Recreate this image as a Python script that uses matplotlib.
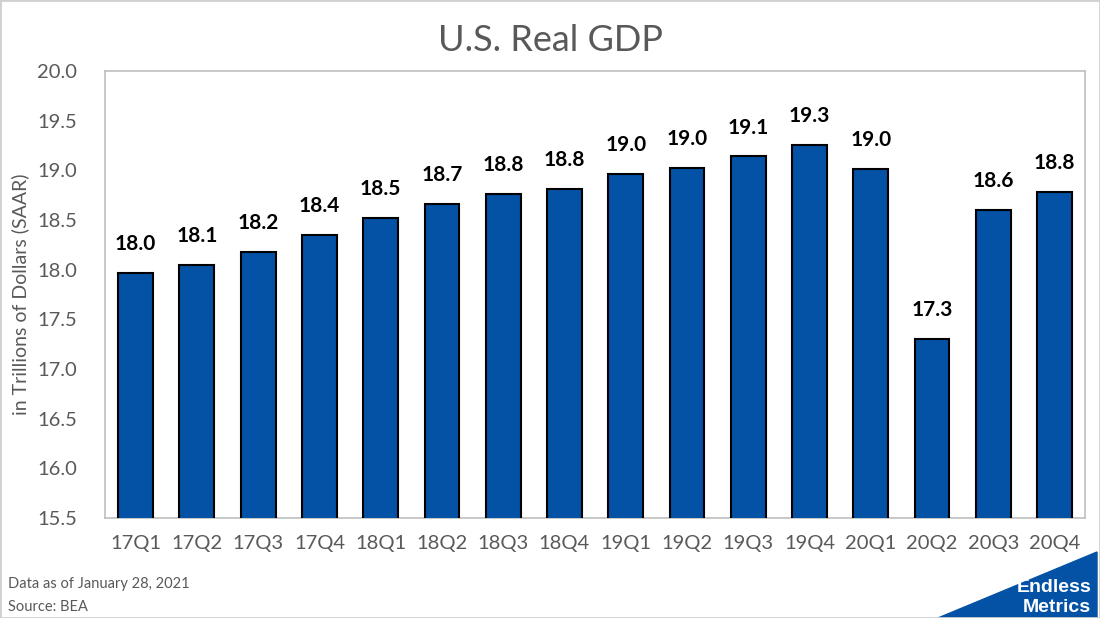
import matplotlib.pyplot as plt
from matplotlib.patches import Polygon, Rectangle

quarters = ['17Q1', '17Q2', '17Q3', '17Q4', '18Q1', '18Q2', '18Q3', '18Q4',
            '19Q1', '19Q2', '19Q3', '19Q4', '20Q1', '20Q2', '20Q3', '20Q4']
gdp = [17.97, 18.05, 18.18, 18.35, 18.52, 18.66, 18.76, 18.81,
       18.96, 19.02, 19.14, 19.26, 19.01, 17.30, 18.60, 18.78]

plt.rcParams['font.family'] = ['Lato', 'DejaVu Sans']
blue = '#0352a5'
grey = '#595959'

fig = plt.figure(figsize=(11, 6.18), dpi=100)
ax = fig.add_axes([0.0955, 0.1618, 0.891, 0.7233])

x = range(len(quarters))
bars = ax.bar(x, gdp, width=0.57, color=blue, edgecolor='black', linewidth=1.5, zorder=3)
for xi, v in zip(x, gdp):
    ax.text(xi, v + 0.19, f'{v:.1f}', ha='center', va='bottom',
            fontsize=15, fontweight='bold', color='black')

ax.set_xlim(-0.5, len(quarters) - 0.5)
ax.set_ylim(15.5, 20.0)
ax.set_yticks([15.5 + 0.5 * i for i in range(10)])
ax.set_yticklabels([f'{15.5 + 0.5 * i:.1f}' for i in range(10)])
ax.set_xticks(list(x))
ax.set_xticklabels(quarters)
ax.tick_params(length=0, labelsize=14.5, colors=grey, pad=12)
ax.tick_params(axis='y', pad=20)
for s in ax.spines.values():
    s.set_color('#bfbfbf')
    s.set_linewidth(1.2)
ax.set_ylabel('in Trillions of Dollars (SAAR)', fontsize=14, color=grey, labelpad=6)

fig.text(0.5, 0.935, 'U.S. Real GDP', ha='center', va='center', fontsize=26, color=grey)
fig.text(0.007, 0.055, 'Data as of January 28, 2021', fontsize=10.5, color=grey, va='center')
fig.text(0.007, 0.018, 'Source: BEA', fontsize=10.5, color=grey, va='center')

# logo
fig.patches.append(Polygon([[938 / 1100, 0], [1097 / 1100, 66 / 618], [1097 / 1100, 0]],
                           closed=True, transform=fig.transFigure, color=blue, zorder=1))
fig.text(0.992, 0.05, 'Endless', ha='right', va='center', fontsize=14,
         fontweight='bold', color='white', family='Liberation Sans')
fig.text(0.992, 0.017, 'Metrics', ha='right', va='center', fontsize=14,
         fontweight='bold', color='white', family='Liberation Sans')

# outer border
fig.patches.append(Rectangle((0, 0), 1, 1, transform=fig.transFigure, fill=False,
                             edgecolor='#d0d0d0', linewidth=2))

fig.savefig('out.png', dpi=100)
